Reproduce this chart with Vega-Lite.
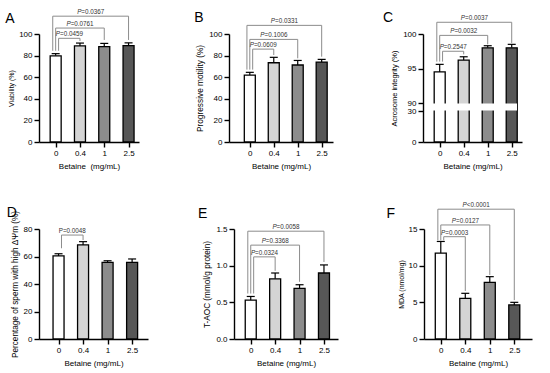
{
  "$schema": "https://vega.github.io/schema/vega-lite/v6.json",
  "padding": {"left": 5, "top": 9, "right": 2, "bottom": 2},
  "spacing": 32,
  "config": {
    "view": {"stroke": null},
    "font": "Liberation Sans",
    "axis": {"domainColor": "#000", "domainWidth": 1.4, "tickColor": "#000", "tickWidth": 1.4, "tickSize": 5, "labelColor": "#000", "labelFontSize": 8, "labelPadding": 2, "labelFlush": false, "labelOverlap": false, "titleColor": "#000", "titleFontSize": 8, "titleFontWeight": "normal", "titlePadding": 4, "grid": false}
  },
  "datasets": {
    "bars": [
      {"panel": "A", "dose": "0", "mean": 79.8, "upper": 81.8},
      {"panel": "A", "dose": "0.4", "mean": 89.0, "upper": 91.6},
      {"panel": "A", "dose": "1", "mean": 88.3, "upper": 91.3},
      {"panel": "A", "dose": "2.5", "mean": 89.2, "upper": 91.8},
      {"panel": "B", "dose": "0", "mean": 62.0, "upper": 64.5},
      {"panel": "B", "dose": "0.4", "mean": 73.4, "upper": 78.4},
      {"panel": "B", "dose": "1", "mean": 71.3, "upper": 75.5},
      {"panel": "B", "dose": "2.5", "mean": 74.0, "upper": 76.5},
      {"panel": "C", "dose": "0", "mean": 94.5, "upper": 95.6},
      {"panel": "C", "dose": "0.4", "mean": 96.2, "upper": 96.7},
      {"panel": "C", "dose": "1", "mean": 98.0, "upper": 98.3},
      {"panel": "C", "dose": "2.5", "mean": 98.0, "upper": 98.5},
      {"panel": "D", "dose": "0", "mean": 60.4, "upper": 62.0},
      {"panel": "D", "dose": "0.4", "mean": 68.4, "upper": 70.8},
      {"panel": "D", "dose": "1", "mean": 55.8, "upper": 56.9},
      {"panel": "D", "dose": "2.5", "mean": 55.8, "upper": 58.2},
      {"panel": "E", "dose": "0", "mean": 0.53, "upper": 0.58},
      {"panel": "E", "dose": "0.4", "mean": 0.82, "upper": 0.90},
      {"panel": "E", "dose": "1", "mean": 0.69, "upper": 0.74},
      {"panel": "E", "dose": "2.5", "mean": 0.90, "upper": 1.01},
      {"panel": "F", "dose": "0", "mean": 11.7, "upper": 13.3},
      {"panel": "F", "dose": "0.4", "mean": 5.55, "upper": 6.23},
      {"panel": "F", "dose": "1", "mean": 7.73, "upper": 8.5},
      {"panel": "F", "dose": "2.5", "mean": 4.64, "upper": 5.0}
    ],
    "brackets": [
      {"panel": "A", "from": "0", "to": "0.4", "level": 1, "y": 96, "yl": 84.5, "yr": 93.5, "label": "P=0.0459"},
      {"panel": "A", "from": "0", "to": "1", "level": 2, "y": 105.5, "yl": 84.5, "yr": 94.5, "label": "P=0.0761"},
      {"panel": "A", "from": "0", "to": "2.5", "level": 3, "y": 116.5, "yl": 84.5, "yr": 94.5, "label": "P=0.0367"},
      {"panel": "B", "from": "0", "to": "0.4", "level": 1, "y": 86, "yl": 67, "yr": 80.5, "label": "P=0.0609"},
      {"panel": "B", "from": "0", "to": "1", "level": 2, "y": 95, "yl": 67, "yr": 77.5, "label": "P=0.1006"},
      {"panel": "B", "from": "0", "to": "2.5", "level": 3, "y": 108, "yl": 67, "yr": 79, "label": "P=0.0331"},
      {"panel": "C", "from": "0", "to": "0.4", "level": 1, "y": 97.5, "yl": 96, "yr": 97.05, "label": "P=0.2547"},
      {"panel": "C", "from": "0", "to": "1", "level": 2, "y": 99.8, "yl": 96, "yr": 98.5, "label": "P=0.0032"},
      {"panel": "C", "from": "0", "to": "2.5", "level": 3, "y": 101.7, "yl": 96, "yr": 98.7, "label": "P=0.0037"},
      {"panel": "D", "from": "0", "to": "0.4", "level": 1, "y": 75.6, "yl": 66, "yr": 72, "label": "P=0.0048"},
      {"panel": "E", "from": "0", "to": "0.4", "level": 1, "y": 1.12, "yl": 0.62, "yr": 0.93, "label": "P=0.0324"},
      {"panel": "E", "from": "0", "to": "1", "level": 2, "y": 1.28, "yl": 0.62, "yr": 0.78, "label": "P=0.3368"},
      {"panel": "E", "from": "0", "to": "2.5", "level": 3, "y": 1.47, "yl": 0.62, "yr": 1.05, "label": "P=0.0058"},
      {"panel": "F", "from": "0", "to": "0.4", "level": 1, "y": 13.95, "yl": 13.45, "yr": 6.55, "label": "P=0.0003"},
      {"panel": "F", "from": "0", "to": "1", "level": 2, "y": 15.55, "yl": 13.45, "yr": 8.73, "label": "P=0.0127"},
      {"panel": "F", "from": "0", "to": "2.5", "level": 3, "y": 17.7, "yl": 13.45, "yr": 5.3, "label": "P<0.0001"}
    ]
  },
  "vconcat": [
    {
      "bounds": "flush",
      "spacing": 90,
      "hconcat": [
        {
          "width": 100, "height": 108,
          "resolve": {"axis": {"x": "independent", "y": "independent"}},
          "layer": [
            {"data": {"name": "bars"}, "transform": [{"filter": "datum.panel === 'A'"}, {"calculate": "indexof(['0','0.4','1','2.5'], datum.dose)", "as": "xi"}],
             "mark": {"type": "rule", "color": "black", "strokeWidth": 1.2},
             "encoding": {
               "x": {"field": "xi", "type": "quantitative", "scale": {"domain": [-0.48, 3.224], "nice": false, "zero": false}, "axis": {"values": [0, 1, 2, 3], "labelExpr": "['0','0.4','1','2.5'][datum.value]", "title": "Betaine\u00a0\u00a0(mg/mL)", "labelOverlap": false, "labelFlush": false, "titleFontWeight": "normal", "titlePadding": 5}},
               "y": {"field": "mean", "type": "quantitative", "scale": {"domain": [0, 100], "nice": false}, "axis": {"values": [0, 20, 40, 60, 80, 100], "title": "Viability (%)", "titleFontSize": 7, "labelOverlap": false, "titleFontWeight": "normal"}},
               "y2": {"field": "upper"}}},
            {"data": {"name": "bars"}, "transform": [{"filter": "datum.panel === 'A'"}, {"calculate": "indexof(['0','0.4','1','2.5'], datum.dose)", "as": "xi"}],
             "mark": {"type": "bar", "orient": "vertical", "size": 11, "stroke": "black", "strokeWidth": 1.3},
             "encoding": {"x": {"field": "xi", "type": "quantitative", "axis": null}, "y": {"field": "mean", "type": "quantitative", "axis": null},
               "fill": {"field": "dose", "type": "nominal", "scale": {"domain": ["0", "0.4", "1", "2.5"], "range": ["#ffffff", "#d4d4d4", "#8c8c8c", "#575757"]}, "legend": null}}},
            {"data": {"name": "bars"}, "transform": [{"filter": "datum.panel === 'A'"}, {"calculate": "indexof(['0','0.4','1','2.5'], datum.dose)", "as": "xi"}],
             "mark": {"type": "tick", "orient": "horizontal", "size": 8, "thickness": 1.2, "color": "black", "opacity": 1},
             "encoding": {"x": {"field": "xi", "type": "quantitative", "axis": null}, "y": {"field": "upper", "type": "quantitative", "axis": null}}},
            {"data": {"name": "brackets"}, "transform": [{"filter": "datum.panel === 'A'"}, {"calculate": "indexof(['0','0.4','1','2.5'], datum.from) + 0.24 - 0.12 * datum.level", "as": "xs"}, {"calculate": "indexof(['0','0.4','1','2.5'], datum.to)", "as": "xe"}, {"calculate": "(datum.xs + datum.xe) / 2", "as": "xm"}, {"calculate": "substring(datum.label, 1)", "as": "rest"}],
             "layer": [
               {"mark": {"type": "rule", "color": "#8c8c8c", "strokeWidth": 1}, "encoding": {"x": {"field": "xs", "type": "quantitative", "axis": null}, "x2": {"field": "xe"}, "y": {"field": "y", "type": "quantitative", "axis": null}}},
               {"mark": {"type": "rule", "color": "#8c8c8c", "strokeWidth": 1}, "encoding": {"x": {"field": "xs", "type": "quantitative", "axis": null}, "y": {"field": "y", "type": "quantitative", "axis": null}, "y2": {"field": "yl"}}},
               {"mark": {"type": "rule", "color": "#8c8c8c", "strokeWidth": 1}, "encoding": {"x": {"field": "xe", "type": "quantitative", "axis": null}, "y": {"field": "y", "type": "quantitative", "axis": null}, "y2": {"field": "yr"}}},
               {"mark": {"type": "text", "fontSize": 6.3, "fontStyle": "italic", "color": "#333333", "align": "left", "baseline": "bottom", "dx": -13.5, "dy": -1}, "encoding": {"x": {"field": "xm", "type": "quantitative", "axis": null}, "y": {"field": "y", "type": "quantitative", "axis": null}, "text": {"value": "P"}}},
               {"mark": {"type": "text", "fontSize": 6.3, "color": "#333333", "align": "left", "baseline": "bottom", "dx": -9.3, "dy": -1}, "encoding": {"x": {"field": "xm", "type": "quantitative", "axis": null}, "y": {"field": "y", "type": "quantitative", "axis": null}, "text": {"field": "rest"}}}
             ]},
            {"data": {"values": [{"letter": "A"}]}, "mark": {"type": "text", "fontSize": 14, "align": "left", "baseline": "alphabetic", "color": "black"},
             "encoding": {"x": {"datum": -2.07, "axis": null}, "y": {"datum": 110.2, "axis": null}, "text": {"field": "letter"}}}
          ]
        },
        {
          "width": 104, "height": 108,
          "resolve": {"axis": {"x": "independent", "y": "independent"}},
          "layer": [
            {"data": {"name": "bars"}, "transform": [{"filter": "datum.panel === 'B'"}, {"calculate": "indexof(['0','0.4','1','2.5'], datum.dose)", "as": "xi"}],
             "mark": {"type": "rule", "color": "black", "strokeWidth": 1.2},
             "encoding": {
               "x": {"field": "xi", "type": "quantitative", "scale": {"domain": [-0.66, 3.264], "nice": false, "zero": false}, "axis": {"values": [0, 1, 2, 3], "labelExpr": "['0','0.4','1','2.5'][datum.value]", "title": "Betaine (mg/mL)", "labelOverlap": false, "labelFlush": false, "titleFontWeight": "normal", "titlePadding": 5}},
               "y": {"field": "mean", "type": "quantitative", "scale": {"domain": [0, 100], "nice": false}, "axis": {"values": [0, 20, 40, 60, 80, 100], "title": "Progressive motility (%)", "titleFontSize": 8.3, "labelOverlap": false, "titleFontWeight": "normal"}},
               "y2": {"field": "upper"}}},
            {"data": {"name": "bars"}, "transform": [{"filter": "datum.panel === 'B'"}, {"calculate": "indexof(['0','0.4','1','2.5'], datum.dose)", "as": "xi"}],
             "mark": {"type": "bar", "orient": "vertical", "size": 11, "stroke": "black", "strokeWidth": 1.3},
             "encoding": {"x": {"field": "xi", "type": "quantitative", "axis": null}, "y": {"field": "mean", "type": "quantitative", "axis": null},
               "fill": {"field": "dose", "type": "nominal", "scale": {"domain": ["0", "0.4", "1", "2.5"], "range": ["#ffffff", "#d4d4d4", "#8c8c8c", "#575757"]}, "legend": null}}},
            {"data": {"name": "bars"}, "transform": [{"filter": "datum.panel === 'B'"}, {"calculate": "indexof(['0','0.4','1','2.5'], datum.dose)", "as": "xi"}],
             "mark": {"type": "tick", "orient": "horizontal", "size": 8, "thickness": 1.2, "color": "black", "opacity": 1},
             "encoding": {"x": {"field": "xi", "type": "quantitative", "axis": null}, "y": {"field": "upper", "type": "quantitative", "axis": null}}},
            {"data": {"name": "brackets"}, "transform": [{"filter": "datum.panel === 'B'"}, {"calculate": "indexof(['0','0.4','1','2.5'], datum.from) + 0.24 - 0.12 * datum.level", "as": "xs"}, {"calculate": "indexof(['0','0.4','1','2.5'], datum.to)", "as": "xe"}, {"calculate": "(datum.xs + datum.xe) / 2", "as": "xm"}, {"calculate": "substring(datum.label, 1)", "as": "rest"}],
             "layer": [
               {"mark": {"type": "rule", "color": "#8c8c8c", "strokeWidth": 1}, "encoding": {"x": {"field": "xs", "type": "quantitative", "axis": null}, "x2": {"field": "xe"}, "y": {"field": "y", "type": "quantitative", "axis": null}}},
               {"mark": {"type": "rule", "color": "#8c8c8c", "strokeWidth": 1}, "encoding": {"x": {"field": "xs", "type": "quantitative", "axis": null}, "y": {"field": "y", "type": "quantitative", "axis": null}, "y2": {"field": "yl"}}},
               {"mark": {"type": "rule", "color": "#8c8c8c", "strokeWidth": 1}, "encoding": {"x": {"field": "xe", "type": "quantitative", "axis": null}, "y": {"field": "y", "type": "quantitative", "axis": null}, "y2": {"field": "yr"}}},
               {"mark": {"type": "text", "fontSize": 6.3, "fontStyle": "italic", "color": "#333333", "align": "left", "baseline": "bottom", "dx": -13.5, "dy": -1}, "encoding": {"x": {"field": "xm", "type": "quantitative", "axis": null}, "y": {"field": "y", "type": "quantitative", "axis": null}, "text": {"value": "P"}}},
               {"mark": {"type": "text", "fontSize": 6.3, "color": "#333333", "align": "left", "baseline": "bottom", "dx": -9.3, "dy": -1}, "encoding": {"x": {"field": "xm", "type": "quantitative", "axis": null}, "y": {"field": "y", "type": "quantitative", "axis": null}, "text": {"field": "rest"}}}
             ]},
            {"data": {"values": [{"letter": "B"}]}, "mark": {"type": "text", "fontSize": 14, "align": "left", "baseline": "alphabetic", "color": "black"},
             "encoding": {"x": {"datum": -2.32, "axis": null}, "y": {"datum": 111.4, "axis": null}, "text": {"field": "letter"}}}
          ]
        },
        {
          "width": 99, "height": 108,
          "resolve": {"axis": {"x": "independent", "y": "independent"}},
          "layer": [
            {"data": {"name": "bars"}, "transform": [{"filter": "datum.panel === 'C'"}, {"calculate": "indexof(['0','0.4','1','2.5'], datum.dose)", "as": "xi"}],
             "mark": {"type": "rule", "color": "black", "strokeWidth": 1.2},
             "encoding": {
               "x": {"field": "xi", "type": "quantitative", "scale": {"domain": [-0.487, 3.22], "nice": false, "zero": false}, "axis": {"values": [0, 1, 2, 3], "labelExpr": "['0','0.4','1','2.5'][datum.value]", "title": "Betaine (mg/mL)", "labelOverlap": false, "labelFlush": false, "titleFontWeight": "normal", "titlePadding": 5}},
               "y": {"field": "mean", "type": "quantitative", "scale": {"domain": [0, 30, 90, 100], "range": [108, 77, 69, 0], "nice": false, "zero": false}, "axis": {"values": [0, 30, 90, 95, 100], "title": "Acrosome integrity (%)", "titleFontSize": 7.5, "labelOverlap": false, "titleFontWeight": "normal"}},
               "y2": {"field": "upper"}}},
            {"data": {"name": "bars"}, "transform": [{"filter": "datum.panel === 'C'"}, {"calculate": "indexof(['0','0.4','1','2.5'], datum.dose)", "as": "xi"}],
             "mark": {"type": "bar", "orient": "vertical", "size": 11, "stroke": "black", "strokeWidth": 1.3},
             "encoding": {"x": {"field": "xi", "type": "quantitative", "axis": null}, "y": {"field": "mean", "type": "quantitative", "axis": null},
               "fill": {"field": "dose", "type": "nominal", "scale": {"domain": ["0", "0.4", "1", "2.5"], "range": ["#ffffff", "#d4d4d4", "#8c8c8c", "#575757"]}, "legend": null}}},
            {"data": {"name": "bars"}, "transform": [{"filter": "datum.panel === 'C'"}, {"calculate": "indexof(['0','0.4','1','2.5'], datum.dose)", "as": "xi"}],
             "mark": {"type": "tick", "orient": "horizontal", "size": 8, "thickness": 1.2, "color": "black", "opacity": 1},
             "encoding": {"x": {"field": "xi", "type": "quantitative", "axis": null}, "y": {"field": "upper", "type": "quantitative", "axis": null}}},
            {"data": {"values": [{"gap": "axis break"}]}, "mark": {"type": "rect", "color": "white", "opacity": 1},
             "encoding": {"x": {"datum": -0.52, "axis": null}, "x2": {"datum": 3.22}, "y": {"datum": 34, "axis": null}, "y2": {"datum": 86}}},
            {"data": {"name": "brackets"}, "transform": [{"filter": "datum.panel === 'C'"}, {"calculate": "indexof(['0','0.4','1','2.5'], datum.from) + 0.24 - 0.12 * datum.level", "as": "xs"}, {"calculate": "indexof(['0','0.4','1','2.5'], datum.to)", "as": "xe"}, {"calculate": "(datum.xs + datum.xe) / 2", "as": "xm"}, {"calculate": "substring(datum.label, 1)", "as": "rest"}],
             "layer": [
               {"mark": {"type": "rule", "color": "#8c8c8c", "strokeWidth": 1}, "encoding": {"x": {"field": "xs", "type": "quantitative", "axis": null}, "x2": {"field": "xe"}, "y": {"field": "y", "type": "quantitative", "axis": null}}},
               {"mark": {"type": "rule", "color": "#8c8c8c", "strokeWidth": 1}, "encoding": {"x": {"field": "xs", "type": "quantitative", "axis": null}, "y": {"field": "y", "type": "quantitative", "axis": null}, "y2": {"field": "yl"}}},
               {"mark": {"type": "rule", "color": "#8c8c8c", "strokeWidth": 1}, "encoding": {"x": {"field": "xe", "type": "quantitative", "axis": null}, "y": {"field": "y", "type": "quantitative", "axis": null}, "y2": {"field": "yr"}}},
               {"mark": {"type": "text", "fontSize": 6.3, "fontStyle": "italic", "color": "#333333", "align": "left", "baseline": "bottom", "dx": -13.5, "dy": -1}, "encoding": {"x": {"field": "xm", "type": "quantitative", "axis": null}, "y": {"field": "y", "type": "quantitative", "axis": null}, "text": {"value": "P"}}},
               {"mark": {"type": "text", "fontSize": 6.3, "color": "#333333", "align": "left", "baseline": "bottom", "dx": -9.3, "dy": -1}, "encoding": {"x": {"field": "xm", "type": "quantitative", "axis": null}, "y": {"field": "y", "type": "quantitative", "axis": null}, "text": {"field": "rest"}}}
             ]},
            {"data": {"values": [{"letter": "C"}]}, "mark": {"type": "text", "fontSize": 14, "align": "left", "baseline": "alphabetic", "color": "black"},
             "encoding": {"x": {"datum": -2.36, "axis": null}, "y": {"datum": 101.7, "axis": null}, "text": {"field": "letter"}}}
          ]
        }
      ]
    },
    {
      "bounds": "flush",
      "spacing": 86,
      "hconcat": [
        {
          "width": 109, "height": 110,
          "resolve": {"axis": {"x": "independent", "y": "independent"}},
          "layer": [
            {"data": {"name": "bars"}, "transform": [{"filter": "datum.panel === 'D'"}, {"calculate": "indexof(['0','0.4','1','2.5'], datum.dose)", "as": "xi"}],
             "mark": {"type": "rule", "color": "black", "strokeWidth": 1.2},
             "encoding": {
               "x": {"field": "xi", "type": "quantitative", "scale": {"domain": [-0.593, 3.444], "nice": false, "zero": false}, "axis": {"values": [0, 1, 2, 3], "labelExpr": "['0','0.4','1','2.5'][datum.value]", "title": "Betaine (mg/mL)", "labelOverlap": false, "labelFlush": false, "titleFontWeight": "normal", "titlePadding": 5}},
               "y": {"field": "mean", "type": "quantitative", "scale": {"domain": [0, 80], "nice": false}, "axis": {"values": [0, 20, 40, 60, 80], "title": "Percentage of sperm with high ΔΨm (%)", "titleFontSize": 8.2, "labelOverlap": false, "titleFontWeight": "normal"}},
               "y2": {"field": "upper"}}},
            {"data": {"name": "bars"}, "transform": [{"filter": "datum.panel === 'D'"}, {"calculate": "indexof(['0','0.4','1','2.5'], datum.dose)", "as": "xi"}],
             "mark": {"type": "bar", "orient": "vertical", "size": 11, "stroke": "black", "strokeWidth": 1.3},
             "encoding": {"x": {"field": "xi", "type": "quantitative", "axis": null}, "y": {"field": "mean", "type": "quantitative", "axis": null},
               "fill": {"field": "dose", "type": "nominal", "scale": {"domain": ["0", "0.4", "1", "2.5"], "range": ["#ffffff", "#d4d4d4", "#8c8c8c", "#575757"]}, "legend": null}}},
            {"data": {"name": "bars"}, "transform": [{"filter": "datum.panel === 'D'"}, {"calculate": "indexof(['0','0.4','1','2.5'], datum.dose)", "as": "xi"}],
             "mark": {"type": "tick", "orient": "horizontal", "size": 8, "thickness": 1.2, "color": "black", "opacity": 1},
             "encoding": {"x": {"field": "xi", "type": "quantitative", "axis": null}, "y": {"field": "upper", "type": "quantitative", "axis": null}}},
            {"data": {"name": "brackets"}, "transform": [{"filter": "datum.panel === 'D'"}, {"calculate": "indexof(['0','0.4','1','2.5'], datum.from) + 0.24 - 0.12 * datum.level", "as": "xs"}, {"calculate": "indexof(['0','0.4','1','2.5'], datum.to)", "as": "xe"}, {"calculate": "(datum.xs + datum.xe) / 2", "as": "xm"}, {"calculate": "substring(datum.label, 1)", "as": "rest"}],
             "layer": [
               {"mark": {"type": "rule", "color": "#8c8c8c", "strokeWidth": 1}, "encoding": {"x": {"field": "xs", "type": "quantitative", "axis": null}, "x2": {"field": "xe"}, "y": {"field": "y", "type": "quantitative", "axis": null}}},
               {"mark": {"type": "rule", "color": "#8c8c8c", "strokeWidth": 1}, "encoding": {"x": {"field": "xs", "type": "quantitative", "axis": null}, "y": {"field": "y", "type": "quantitative", "axis": null}, "y2": {"field": "yl"}}},
               {"mark": {"type": "rule", "color": "#8c8c8c", "strokeWidth": 1}, "encoding": {"x": {"field": "xe", "type": "quantitative", "axis": null}, "y": {"field": "y", "type": "quantitative", "axis": null}, "y2": {"field": "yr"}}},
               {"mark": {"type": "text", "fontSize": 6.3, "color": "#333333", "align": "center", "baseline": "bottom", "dy": -1}, "encoding": {"x": {"field": "xm", "type": "quantitative", "axis": null}, "y": {"field": "y", "type": "quantitative", "axis": null}, "text": {"field": "label"}}}
             ]},
            {"data": {"values": [{"letter": "D"}]}, "mark": {"type": "text", "fontSize": 14, "align": "left", "baseline": "alphabetic", "color": "black"},
             "encoding": {"x": {"datum": -2.11, "axis": null}, "y": {"datum": 89, "axis": null}, "text": {"field": "letter"}}}
          ]
        },
        {
          "width": 104, "height": 110,
          "resolve": {"axis": {"x": "independent", "y": "independent"}},
          "layer": [
            {"data": {"name": "bars"}, "transform": [{"filter": "datum.panel === 'E'"}, {"calculate": "indexof(['0','0.4','1','2.5'], datum.dose)", "as": "xi"}],
             "mark": {"type": "rule", "color": "black", "strokeWidth": 1.2},
             "encoding": {
               "x": {"field": "xi", "type": "quantitative", "scale": {"domain": [-0.481, 3.37], "nice": false, "zero": false}, "axis": {"values": [0, 1, 2, 3], "labelExpr": "['0','0.4','1','2.5'][datum.value]", "title": "Betaine (mg/mL)", "labelOverlap": false, "labelFlush": false, "titleFontWeight": "normal", "titlePadding": 5}},
               "y": {"field": "mean", "type": "quantitative", "scale": {"domain": [0, 1.5], "nice": false}, "axis": {"values": [0, 0.5, 1, 1.5], "format": ".1f", "title": "T-AOC (mmol/g protein)", "titleFontSize": 8.2, "labelOverlap": false, "titleFontWeight": "normal"}},
               "y2": {"field": "upper"}}},
            {"data": {"name": "bars"}, "transform": [{"filter": "datum.panel === 'E'"}, {"calculate": "indexof(['0','0.4','1','2.5'], datum.dose)", "as": "xi"}],
             "mark": {"type": "bar", "orient": "vertical", "size": 11, "stroke": "black", "strokeWidth": 1.3},
             "encoding": {"x": {"field": "xi", "type": "quantitative", "axis": null}, "y": {"field": "mean", "type": "quantitative", "axis": null},
               "fill": {"field": "dose", "type": "nominal", "scale": {"domain": ["0", "0.4", "1", "2.5"], "range": ["#ffffff", "#d4d4d4", "#8c8c8c", "#575757"]}, "legend": null}}},
            {"data": {"name": "bars"}, "transform": [{"filter": "datum.panel === 'E'"}, {"calculate": "indexof(['0','0.4','1','2.5'], datum.dose)", "as": "xi"}],
             "mark": {"type": "tick", "orient": "horizontal", "size": 8, "thickness": 1.2, "color": "black", "opacity": 1},
             "encoding": {"x": {"field": "xi", "type": "quantitative", "axis": null}, "y": {"field": "upper", "type": "quantitative", "axis": null}}},
            {"data": {"name": "brackets"}, "transform": [{"filter": "datum.panel === 'E'"}, {"calculate": "indexof(['0','0.4','1','2.5'], datum.from) + 0.24 - 0.12 * datum.level", "as": "xs"}, {"calculate": "indexof(['0','0.4','1','2.5'], datum.to)", "as": "xe"}, {"calculate": "(datum.xs + datum.xe) / 2", "as": "xm"}, {"calculate": "substring(datum.label, 1)", "as": "rest"}],
             "layer": [
               {"mark": {"type": "rule", "color": "#8c8c8c", "strokeWidth": 1}, "encoding": {"x": {"field": "xs", "type": "quantitative", "axis": null}, "x2": {"field": "xe"}, "y": {"field": "y", "type": "quantitative", "axis": null}}},
               {"mark": {"type": "rule", "color": "#8c8c8c", "strokeWidth": 1}, "encoding": {"x": {"field": "xs", "type": "quantitative", "axis": null}, "y": {"field": "y", "type": "quantitative", "axis": null}, "y2": {"field": "yl"}}},
               {"mark": {"type": "rule", "color": "#8c8c8c", "strokeWidth": 1}, "encoding": {"x": {"field": "xe", "type": "quantitative", "axis": null}, "y": {"field": "y", "type": "quantitative", "axis": null}, "y2": {"field": "yr"}}},
               {"mark": {"type": "text", "fontSize": 6.3, "fontStyle": "italic", "color": "#333333", "align": "left", "baseline": "bottom", "dx": -13.5, "dy": -1}, "encoding": {"x": {"field": "xm", "type": "quantitative", "axis": null}, "y": {"field": "y", "type": "quantitative", "axis": null}, "text": {"value": "P"}}},
               {"mark": {"type": "text", "fontSize": 6.3, "color": "#333333", "align": "left", "baseline": "bottom", "dx": -9.3, "dy": -1}, "encoding": {"x": {"field": "xm", "type": "quantitative", "axis": null}, "y": {"field": "y", "type": "quantitative", "axis": null}, "text": {"field": "rest"}}}
             ]},
            {"data": {"values": [{"letter": "E"}]}, "mark": {"type": "text", "fontSize": 14, "align": "left", "baseline": "alphabetic", "color": "black"},
             "encoding": {"x": {"datum": -2.16, "axis": null}, "y": {"datum": 1.65, "axis": null}, "text": {"field": "letter"}}}
          ]
        },
        {
          "width": 108, "height": 110,
          "resolve": {"axis": {"x": "independent", "y": "independent"}},
          "layer": [
            {"data": {"name": "bars"}, "transform": [{"filter": "datum.panel === 'F'"}, {"calculate": "indexof(['0','0.4','1','2.5'], datum.dose)", "as": "xi"}],
             "mark": {"type": "rule", "color": "black", "strokeWidth": 1.2},
             "encoding": {
               "x": {"field": "xi", "type": "quantitative", "scale": {"domain": [-0.481, 3.519], "nice": false, "zero": false}, "axis": {"values": [0, 1, 2, 3], "labelExpr": "['0','0.4','1','2.5'][datum.value]", "title": "Betaine (mg/mL)", "labelOverlap": false, "labelFlush": false, "titleFontWeight": "normal", "titlePadding": 5}},
               "y": {"field": "mean", "type": "quantitative", "scale": {"domain": [0, 15], "nice": false}, "axis": {"values": [0, 5, 10, 15], "title": "MDA (nmol/mg)", "titleFontSize": 7, "labelOverlap": false, "titleFontWeight": "normal"}},
               "y2": {"field": "upper"}}},
            {"data": {"name": "bars"}, "transform": [{"filter": "datum.panel === 'F'"}, {"calculate": "indexof(['0','0.4','1','2.5'], datum.dose)", "as": "xi"}],
             "mark": {"type": "bar", "orient": "vertical", "size": 11, "stroke": "black", "strokeWidth": 1.3},
             "encoding": {"x": {"field": "xi", "type": "quantitative", "axis": null}, "y": {"field": "mean", "type": "quantitative", "axis": null},
               "fill": {"field": "dose", "type": "nominal", "scale": {"domain": ["0", "0.4", "1", "2.5"], "range": ["#ffffff", "#d4d4d4", "#8c8c8c", "#575757"]}, "legend": null}}},
            {"data": {"name": "bars"}, "transform": [{"filter": "datum.panel === 'F'"}, {"calculate": "indexof(['0','0.4','1','2.5'], datum.dose)", "as": "xi"}],
             "mark": {"type": "tick", "orient": "horizontal", "size": 8, "thickness": 1.2, "color": "black", "opacity": 1},
             "encoding": {"x": {"field": "xi", "type": "quantitative", "axis": null}, "y": {"field": "upper", "type": "quantitative", "axis": null}}},
            {"data": {"name": "brackets"}, "transform": [{"filter": "datum.panel === 'F'"}, {"calculate": "indexof(['0','0.4','1','2.5'], datum.from) + 0.24 - 0.12 * datum.level", "as": "xs"}, {"calculate": "indexof(['0','0.4','1','2.5'], datum.to)", "as": "xe"}, {"calculate": "(datum.xs + datum.xe) / 2", "as": "xm"}, {"calculate": "substring(datum.label, 1)", "as": "rest"}],
             "layer": [
               {"mark": {"type": "rule", "color": "#8c8c8c", "strokeWidth": 1}, "encoding": {"x": {"field": "xs", "type": "quantitative", "axis": null}, "x2": {"field": "xe"}, "y": {"field": "y", "type": "quantitative", "axis": null}}},
               {"mark": {"type": "rule", "color": "#8c8c8c", "strokeWidth": 1}, "encoding": {"x": {"field": "xs", "type": "quantitative", "axis": null}, "y": {"field": "y", "type": "quantitative", "axis": null}, "y2": {"field": "yl"}}},
               {"mark": {"type": "rule", "color": "#8c8c8c", "strokeWidth": 1}, "encoding": {"x": {"field": "xe", "type": "quantitative", "axis": null}, "y": {"field": "y", "type": "quantitative", "axis": null}, "y2": {"field": "yr"}}},
               {"mark": {"type": "text", "fontSize": 6.3, "fontStyle": "italic", "color": "#333333", "align": "left", "baseline": "bottom", "dx": -13.5, "dy": -1}, "encoding": {"x": {"field": "xm", "type": "quantitative", "axis": null}, "y": {"field": "y", "type": "quantitative", "axis": null}, "text": {"value": "P"}}},
               {"mark": {"type": "text", "fontSize": 6.3, "color": "#333333", "align": "left", "baseline": "bottom", "dx": -9.3, "dy": -1}, "encoding": {"x": {"field": "xm", "type": "quantitative", "axis": null}, "y": {"field": "y", "type": "quantitative", "axis": null}, "text": {"field": "rest"}}}
             ]},
            {"data": {"values": [{"letter": "F"}]}, "mark": {"type": "text", "fontSize": 14, "align": "left", "baseline": "alphabetic", "color": "black"},
             "encoding": {"x": {"datum": -2.22, "axis": null}, "y": {"datum": 16.5, "axis": null}, "text": {"field": "letter"}}}
          ]
        }
      ]
    }
  ]
}
